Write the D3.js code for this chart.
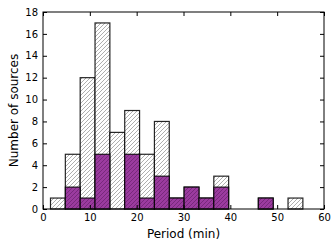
<!DOCTYPE html>
<html>
<head>
<meta charset="utf-8">
<script src="https://cdn.jsdelivr.net/npm/d3@7"></script>
<style>
body { margin: 0; background: white; }
text { font-family: "DejaVu Sans", sans-serif; }
</style>
</head>
<body>
<div id="chart"></div>
<script>
var width = 332, height = 247;
var margin = {top: 12, right: 8, bottom: 38, left: 43};

// histogram: 17 bins, edges in minutes
var binStart = 1.6;
var binWidth = 3.17;
var allCounts = [1, 5, 12, 17, 7, 9, 5, 8, 1, 2, 1, 3, 0, 0, 1, 0, 1];
var subCounts = [0, 2, 1, 5, 0, 5, 1, 3, 1, 2, 1, 2, 0, 0, 1, 0, 0];
var xTicks = [0, 10, 20, 30, 40, 50, 60];
var yTicks = [0, 2, 4, 6, 8, 10, 12, 14, 16, 18];

var svg = d3.select('#chart').append('svg')
	.attr('width', width)
	.attr('height', height);

var defs = svg.append('defs');
function hatch(id, bg, fg) {
	var p = defs.append('pattern')
		.attr('id', id)
		.attr('patternUnits', 'userSpaceOnUse')
		.attr('width', 4).attr('height', 4);
	p.append('rect').attr('width', 4).attr('height', 4).attr('fill', bg);
	p.append('path')
		.attr('d', 'M-1,1 L1,-1 M0,4 L4,0 M3,5 L5,3')
		.attr('stroke', fg).attr('stroke-width', 0.8);
}
hatch('hatchWhite', 'white', '#9a9a9a');
hatch('hatchPurple', '#9b3b9f', '#6e2474');

var x = d3.scaleLinear().domain([0, 60]).range([margin.left, width - margin.right]);
var y = d3.scaleLinear().domain([0, 18]).range([height - margin.bottom, margin.top]);

function bins(counts) {
	return counts.map(function(c, i) {
		return {x0: binStart + i * binWidth, x1: binStart + (i + 1) * binWidth, n: c};
	}).filter(function(d) { return d.n > 0; });
}

function drawBars(data, fill) {
	svg.append('g').selectAll('rect')
		.data(data)
		.enter().append('rect')
		.attr('x', function(d) { return x(d.x0); })
		.attr('y', function(d) { return y(d.n); })
		.attr('width', function(d) { return x(d.x1) - x(d.x0); })
		.attr('height', function(d) { return y(0) - y(d.n); })
		.attr('fill', fill)
		.attr('stroke', 'black')
		.attr('stroke-opacity', 0.85)
		.attr('stroke-width', 1.2);
}
drawBars(bins(allCounts), 'url(#hatchWhite)');
drawBars(bins(subCounts), 'url(#hatchPurple)');

// axes, ticks inside on all four sides
var x0 = x(0), x1 = x(60), y0 = y(0), y1 = y(18);
svg.append('g').attr('transform', 'translate(0,' + y0 + ')')
	.call(d3.axisBottom(x).tickValues(xTicks).tickSize(-4).tickPadding(5))
	.call(function(g) { g.select('.domain').remove(); });
svg.append('g').attr('transform', 'translate(0,' + y1 + ')')
	.call(d3.axisTop(x).tickValues(xTicks).tickSize(-4).tickFormat(''))
	.call(function(g) { g.select('.domain').remove(); });
svg.append('g').attr('transform', 'translate(' + x0 + ',0)')
	.call(d3.axisLeft(y).tickValues(yTicks).tickSize(-4).tickPadding(5))
	.call(function(g) { g.select('.domain').remove(); });
svg.append('g').attr('transform', 'translate(' + x1 + ',0)')
	.call(d3.axisRight(y).tickValues(yTicks).tickSize(-4).tickFormat(''))
	.call(function(g) { g.select('.domain').remove(); });

svg.selectAll('.tick text')
	.attr('font-size', 10)
	.attr('fill', 'black')
	.style('font-family', '"DejaVu Sans", sans-serif');

svg.append('rect')
	.attr('x', x0).attr('y', y1)
	.attr('width', x1 - x0).attr('height', y0 - y1)
	.attr('fill', 'none')
	.attr('stroke', 'black')
	.attr('stroke-width', 1);

svg.append('text')
	.attr('x', (x0 + x1) / 2)
	.attr('y', height - 9)
	.attr('text-anchor', 'middle')
	.attr('font-size', 12)
	.text('Period (min)');

svg.append('text')
	.attr('transform', 'translate(18,' + ((y0 + y1) / 2) + ') rotate(-90)')
	.attr('text-anchor', 'middle')
	.attr('font-size', 12)
	.text('Number of sources');
</script>
</body>
</html>
